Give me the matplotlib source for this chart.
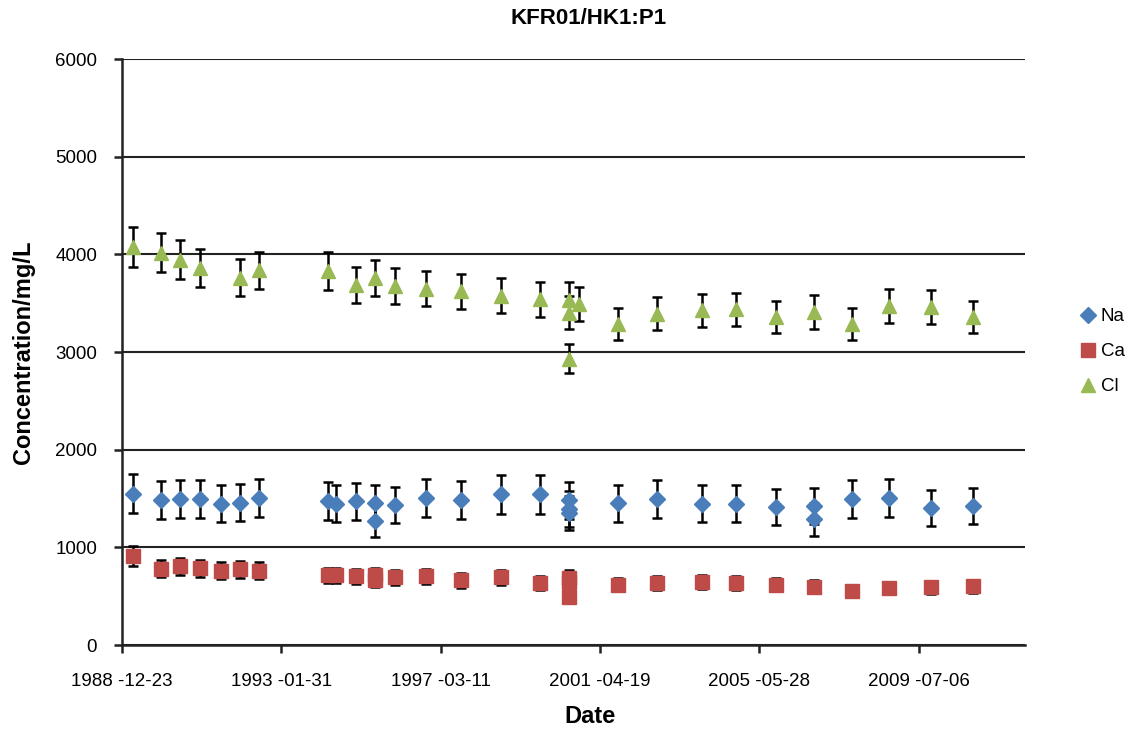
import numpy as np
import matplotlib
matplotlib.use("Agg")
import matplotlib.pyplot as plt
from matplotlib.lines import Line2D

plt.rcParams["font.family"] = ["Liberation Sans", "DejaVu Sans"]

na_dates = ["1989-04-05", "1989-12-28", "1990-06-18", "1990-12-30", "1991-07-12",
            "1992-01-10", "1992-07-04", "1994-04-11", "1994-07-02", "1995-01-06",
            "1995-07-01", "1995-07-01", "1996-01-05", "1996-10-25", "1997-09-20",
            "1998-10-01", "1999-10-03", "2000-07-05", "2000-07-05", "2000-07-05",
            "2001-10-03", "2002-10-05", "2003-12-05", "2004-10-23", "2005-11-01",
            "2006-10-27", "2006-10-27", "2007-10-14", "2008-09-26", "2009-10-30",
            "2010-12-02"]
na_vals = [1549, 1488, 1498, 1498, 1447, 1457, 1508, 1474, 1447, 1470,
           1453, 1268, 1436, 1504, 1488, 1542, 1542, 1480, 1395, 1350,
           1453, 1494, 1447, 1447, 1412, 1426, 1286, 1494, 1504, 1402,
           1426]

ca_dates = ["1989-04-05", "1989-12-28", "1990-06-18", "1990-12-30", "1991-07-12",
            "1992-01-10", "1992-07-04", "1994-04-11", "1994-07-02", "1995-01-06",
            "1995-07-01", "1995-07-01", "1996-01-05", "1996-10-25", "1997-09-20",
            "1998-10-01", "1999-10-03", "2000-07-05", "2000-07-05", "2000-07-05",
            "2001-10-03", "2002-10-05", "2003-12-05", "2004-10-23", "2005-11-01",
            "2006-10-27", "2007-10-14", "2008-09-26", "2009-10-30", "2010-12-02"]
ca_vals = [910, 781, 807, 787, 763, 774, 763, 712, 712, 705,
           712, 665, 695, 702, 661, 695, 637, 690, 650, 490,
           617, 633, 643, 637, 617, 599, 558, 582, 592, 602]

cl_dates = ["1989-04-05", "1989-12-28", "1990-06-18", "1990-12-30", "1992-01-10",
            "1992-07-04", "1994-04-11", "1995-01-06", "1995-07-01", "1996-01-05",
            "1996-10-25", "1997-09-20", "1998-10-01", "1999-10-03", "2000-07-05",
            "2000-07-05", "2000-07-05", "2000-10-01", "2001-10-03", "2002-10-05",
            "2003-12-05", "2004-10-23", "2005-11-01", "2006-10-27", "2007-10-14",
            "2008-09-26", "2009-10-30", "2010-12-02"]
cl_vals = [4076, 4015, 3947, 3861, 3762, 3837, 3830, 3690, 3758, 3676,
           3650, 3622, 3578, 3540, 3537, 3404, 2932, 3496, 3291, 3393,
           3427, 3437, 3358, 3410, 3291, 3475, 3461, 3358]

# relative uncertainty used for the error bars
na_err = 0.13
ca_err = 0.11
cl_err = 0.05

tick_dates = ["1988-12-23", "1993-01-31", "1997-03-11", "2001-04-19",
              "2005-05-28", "2009-07-06"]
tick_labels = ["1988 -12-23", "1993 -01-31", "1997 -03-11", "2001 -04-19",
               "2005 -05-28", "2009 -07-06"]

series = [
    ("Na", na_dates, na_vals, na_err, "#4A7EBB", "D", 8),
    ("Ca", ca_dates, ca_vals, ca_err, "#BE4B48", "s", 9.5),
    ("Cl", cl_dates, cl_vals, cl_err, "#98B954", "^", 10),
]


def to_dt(d):
    return np.datetime64(d, "D").astype("O")


fig = plt.figure(figsize=(11.34, 7.33), dpi=100)
ax = fig.add_axes([0.1076, 0.120, 0.7963, 0.7995])

handles = []
for name, dates, vals, err, color, marker, ms in series:
    x = [to_dt(d) for d in dates]
    y = np.array(vals, dtype=float)
    ax.errorbar(x, y, yerr=y * err, fmt="none", ecolor="black",
                elinewidth=1.8, capsize=3.5, capthick=1.8, zorder=3)
    ax.plot(x, y, linestyle="none", marker=marker, markersize=ms,
            color=color, markeredgecolor=color, zorder=4)
    handles.append(Line2D([], [], linestyle="none", marker=marker,
                          markersize=ms, color=color, label=name))

ax.set_ylim(0, 6000)
ax.set_yticks(range(0, 6001, 1000))
ax.set_xlim(to_dt("1988-12-23"), to_dt("2012-04-02"))
ax.set_xticks([to_dt(d) for d in tick_dates])
ax.set_xticklabels(tick_labels)

ax.grid(axis="y", color="#222222", linewidth=1.5)
ax.set_axisbelow(True)
for side in ["top", "right"]:
    ax.spines[side].set_visible(False)
for side in ["left", "bottom"]:
    ax.spines[side].set_linewidth(1.8)
    ax.spines[side].set_color("#222222")
ax.tick_params(axis="both", direction="out", length=6, width=1.8,
               color="#222222", labelsize=13.5)
ax.tick_params(axis="x", pad=14)
ax.tick_params(axis="y", pad=12)

fig.text(0.519, 0.975, "KFR01/HK1:P1", fontsize=16, fontweight="bold",
         ha="center", va="center")
ax.set_xlabel("Date", fontsize=17, fontweight="bold")
ax.xaxis.set_label_coords(0.518, -0.102)
ax.set_ylabel("Concentration/mg/L", fontsize=17, fontweight="bold")
ax.yaxis.set_label_coords(-0.096, 0.5)

fig.legend(handles=handles, loc="center left", bbox_to_anchor=(0.951, 0.52),
           frameon=False, fontsize=13.5, handletextpad=0.2, labelspacing=0.95,
           handlelength=1.0, borderaxespad=0, borderpad=0)

fig.savefig("out.png", dpi=100)
